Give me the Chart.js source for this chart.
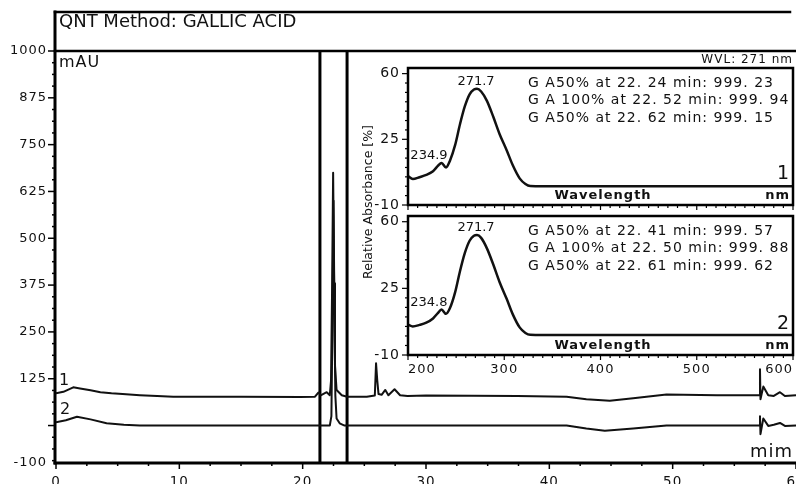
<!DOCTYPE html>
<html>
<head>
<meta charset="utf-8">
<script src="https://cdn.jsdelivr.net/npm/chart.js@4.4.0/dist/chart.umd.min.js"></script>
<style>
  html, body { margin: 0; padding: 0; background: #fff; }
  #wrap { position: relative; width: 796px; height: 484px; overflow: hidden; background: #fff; }
  canvas { position: absolute; }
  #main { left: 0; top: 0; }
  #spec1 { left: 350px; top: 52px; }
  #spec2 { left: 350px; top: 208px; }
</style>
</head>
<body>
<div id="wrap">
  <canvas id="main" width="796" height="484"></canvas>
  <canvas id="spec1" width="446" height="160"></canvas>
  <canvas id="spec2" width="446" height="176"></canvas>
</div>
<script>
// ---- Chromatogram, detector at 271 nm (time in min, signal in mAU) ----
const time1 = [0, 0.6, 1.4, 1.95, 2.8, 3.6, 4.5, 5.4, 6.8, 8.2, 9.5, 15, 19.8, 21.0, 21.27, 21.5, 21.95, 22.2,
  22.3, 22.38, 22.47, 22.55, 22.62, 22.75, 23.17, 23.6, 25.2, 25.85, 25.95, 26.05, 26.15, 26.4, 26.7, 26.95,
  27.45, 27.9, 28.5, 30, 37.4, 41.4, 43, 44.9, 46.8, 49.5, 53.6, 57.0, 57.08, 57.12, 57.35, 57.75, 58.2, 58.7, 59.1, 60];
const trace1 = [86, 90, 102, 99, 94, 89, 86, 84, 81, 79, 77, 77, 76, 77, 88, 81, 89, 81,
  120, 350, 675, 380, 160, 95, 81, 77, 77, 80, 166, 120, 84, 82, 95, 81,
  97, 81, 79, 80, 79, 77, 70, 66, 73, 83, 81, 81, 150, 70, 104, 81, 79, 89, 79, 81];

const time2 = [0, 0.8, 1.7, 2.8, 4.1, 5.5, 6.8, 20, 22.2, 22.33, 22.4, 22.5, 22.58, 22.65, 22.75, 23.0, 23.4,
  41.4, 43, 44.5, 46.8, 49.5, 57.0, 57.08, 57.12, 57.35, 57.75, 58.2, 58.7, 59.1, 60];
const trace2 = [8.5, 14, 23.5, 16.5, 6, 2, 0, 0, 0, 25, 230, 600, 300, 80, 19, 6, 0,
  0, -8, -14, -8, 0, 0, 25, -23, 19, -1, 2, 7, -1, 0];

// peak window markers (min)
const markerTimes = [21.4, 23.6];

const timeTicks = [0, 10, 20, 30, 40, 50, 60];
const mauTicks = [-100, 125, 250, 375, 500, 625, 750, 875, 1000];

// ---- UV spectra across the gallic acid peak (wavelength in nm, relative absorbance in %) ----
const wl1 = [200, 205, 212, 219, 226, 231, 234.9, 239.5, 243.5, 249, 254, 259, 264, 268.5, 271.7, 276, 282,
  288.6, 295, 302.5, 309, 316, 322, 327, 340, 600];
const spec1 = [5.4, 3.8, 4.8, 6.0, 8.0, 10.8, 12.4, 10.0, 13.5, 22, 33, 42.5, 49, 51.5, 52, 50.5, 45.5,
  37, 28, 19.2, 11, 4.2, 1.2, 0.1, 0, 0];

const wl2 = [200, 205, 212, 219, 226, 231, 234.8, 239.5, 243.5, 249, 254, 259, 264, 268.5, 271.7, 276, 282,
  288.6, 295, 302.5, 309, 316, 322, 327, 340, 600];
const spec2 = [5.9, 5.0, 5.8, 7.0, 9.2, 12, 13.9, 11.6, 14.5, 23, 34, 43.5, 50, 52.6, 53, 51.5, 46,
  37.5, 28.5, 19.5, 11.2, 4.5, 1.6, 0.6, 0.5, 0.5];

const spec1Peaks = [271.7, 234.9];
const spec2Peaks = [271.7, 234.8];

const spec1Notes = ['G A50% at 22. 24 min: 999. 23', 'G A 100% at 22. 52 min: 999. 94', 'G A50% at 22. 62 min: 999. 15'];
const spec2Notes = ['G A50% at 22. 41 min: 999. 57', 'G A 100% at 22. 50 min: 999. 88', 'G A50% at 22. 61 min: 999. 62'];

const specYTicks = [-10, 25, 60];
const specXTicks = [200, 300, 400, 500, 600];

const INK = '#111';
const FONT = 'DejaVu Sans';

function pts(xs, ys) { return xs.map((x, i) => ({ x: x, y: ys[i] })); }

function txt(ctx, s, x, y, font, align, spacing) {
  ctx.save();
  ctx.font = font;
  ctx.fillStyle = INK;
  ctx.textAlign = align || 'left';
  ctx.textBaseline = 'middle';
  ctx.letterSpacing = spacing || '0px';
  ctx.fillText(s, x, y);
  ctx.restore();
}

function line(ctx, x1, y1, x2, y2, w) {
  ctx.beginPath();
  ctx.lineWidth = w;
  ctx.moveTo(x1, y1);
  ctx.lineTo(x2, y2);
  ctx.stroke();
}

// no label-driven margins on the axes
function noSidePadding(s) { s.paddingLeft = 0; s.paddingRight = 0; }
function noEndPadding(s) { s.paddingTop = 0; s.paddingBottom = 0; }

const spacingPlugin = {
  id: 'spacing',
  beforeDraw(chart) { chart.ctx.letterSpacing = '1px'; }
};

// ---- main chromatogram ----
const chromFrame = {
  id: 'chromFrame',
  afterDraw(chart) {
    const ctx = chart.ctx, ca = chart.chartArea;
    const xs = chart.scales.x, ys = chart.scales.y;
    ctx.save();
    ctx.strokeStyle = '#000';
    ctx.lineCap = 'square';
    // title box and axes
    line(ctx, ca.left - 1, 12, ca.left - 1, ca.bottom, 3);
    line(ctx, ca.left - 1, 12, chart.width - 6, 12, 2.5);
    line(ctx, ca.left - 1, ca.top, chart.width, ca.top, 2.5);
    line(ctx, ca.left - 1, ca.bottom, chart.width, ca.bottom, 3);
    ctx.lineCap = 'butt';
    // y ticks
    for (let v = -93.75; v <= 1000.01; v += 31.25) {
      const y = ys.getPixelForValue(v);
      const major = Math.abs(v % 125) < 0.01;
      line(ctx, ca.left - (major ? 8 : 4), y, ca.left - 1, y, 1.5);
    }
    // x ticks
    for (let t = 0; t <= 60.01; t += 2.5) {
      const x = xs.getPixelForValue(t);
      const major = Math.abs(t % 10) < 0.01;
      line(ctx, x, ca.bottom, x, ca.bottom + (major ? 6 : 3), 1.5);
    }
    ctx.restore();

    txt(ctx, 'QNT Method: GALLIC ACID', ca.left + 3, 22, '18px ' + FONT, 'left');
    txt(ctx, 'mAU', ca.left + 3, 63, '16px ' + FONT, 'left', '1px');
    txt(ctx, '1', ca.left + 3, ys.getPixelForValue(trace1[0] + 33), '16px ' + FONT, 'left');
    txt(ctx, '2', ca.left + 4, ys.getPixelForValue(trace2[0] + 33), '16px ' + FONT, 'left');
    txt(ctx, 'mim', ca.right - 3, ca.bottom - 11, '18px ' + FONT, 'right', '1px');
    txt(ctx, 'WVL: 271 nm', ca.right - 3, ca.top + 9, '12px ' + FONT, 'right', '1px');

    ctx.save();
    ctx.translate(369, 202);
    ctx.rotate(-Math.PI / 2);
    txt(ctx, 'Relative Absorbance [%]', 0, 0, '12.5px ' + FONT, 'center');
    ctx.restore();
  }
};

const traceStyle = { borderColor: INK, borderWidth: 2, pointRadius: 0, tension: 0, borderJoinStyle: 'round' };

new Chart(document.getElementById('main'), {
  type: 'line',
  data: {
    datasets: [
      Object.assign({ data: pts(time1, trace1) }, traceStyle),
      Object.assign({ data: pts(time2, trace2) }, traceStyle)
    ].concat(markerTimes.map(t => ({
      data: [{ x: t, y: -100 }, { x: t, y: 1000 }],
      borderColor: '#000', borderWidth: 3, pointRadius: 0
    })))
  },
  options: {
    responsive: false,
    animation: false,
    events: [],
    layout: { padding: { top: 51, left: 0, right: 0, bottom: 0 }, autoPadding: false },
    plugins: { legend: { display: false }, tooltip: { enabled: false } },
    scales: {
      x: {
        type: 'linear', min: 0, max: 60,
        afterFit(s) { s.height = 21; noSidePadding(s); },
        afterBuildTicks(s) { s.ticks = timeTicks.map(v => ({ value: v })); },
        grid: { display: false, drawTicks: false },
        border: { display: false },
        ticks: { padding: 11, maxRotation: 0, autoSkip: false, color: INK, font: { family: FONT, size: 13.5 },
                 callback: v => String(v) }
      },
      y: {
        type: 'linear', min: -100, max: 1000,
        afterFit(s) { s.width = 56; noEndPadding(s); },
        afterBuildTicks(s) { s.ticks = mauTicks.map(v => ({ value: v })); },
        grid: { display: false, drawTicks: false },
        border: { display: false },
        ticks: { padding: 9, color: INK, font: { family: FONT, size: 13 }, callback: v => String(v) }
      }
    }
  },
  plugins: [spacingPlugin, chromFrame]
});

// ---- spectra panels ----
function spectrumChart(id, wl, vals, peaks, notes, panelLabel, showXLabels, padTop, axisH) {
  const frame = {
    id: 'specFrame' + panelLabel,
    afterDraw(chart) {
      const ctx = chart.ctx, ca = chart.chartArea;
      const xs = chart.scales.x, ys = chart.scales.y;
      ctx.save();
      ctx.strokeStyle = '#000';
      ctx.lineWidth = 2.5;
      ctx.strokeRect(ca.left, ca.top, ca.right - ca.left, ca.bottom - ca.top);
      for (let v = -10; v <= 60.01; v += 5) {
        const y = ys.getPixelForValue(v);
        const major = specYTicks.includes(v);
        line(ctx, ca.left - (major ? 6 : 3), y, ca.left, y, 1.2);
      }
      for (let w = 200; w <= 600; w += 10) {
        const x = xs.getPixelForValue(w);
        const major = w % 100 === 0;
        line(ctx, x, ca.bottom, x, ca.bottom + (major ? 5 : 3), 1.2);
      }
      ctx.restore();

      // peak wavelength labels
      const pMain = peaks[0], pSh = peaks[1];
      const yMain = ys.getPixelForValue(vals[wl.indexOf(pMain)]);
      txt(ctx, pMain.toFixed(1), xs.getPixelForValue(pMain) - 1, yMain - 7, '13px ' + FONT, 'center');
      const ySh = ys.getPixelForValue(vals[wl.indexOf(pSh)]);
      txt(ctx, pSh.toFixed(1), xs.getPixelForValue(pSh) + 6, ySh - 7, '13px ' + FONT, 'right');

      notes.forEach((s, i) => {
        txt(ctx, s, ca.left + 120, ca.top + 15 + i * 17.8, '14px ' + FONT, 'left', '1px');
      });
      txt(ctx, 'Wavelength', ca.left + 195, ca.bottom - 9, 'bold 13px ' + FONT, 'center', '1px');
      txt(ctx, 'nm', ca.right - 3, ca.bottom - 9, 'bold 13px ' + FONT, 'right', '1px');
      txt(ctx, panelLabel, ca.right - 4, ca.bottom - 31, '19px ' + FONT, 'right');
    }
  };

  return new Chart(document.getElementById(id), {
    type: 'line',
    data: {
      datasets: [{
        data: pts(wl, vals), borderColor: INK, borderWidth: 2.5, pointRadius: 0,
        cubicInterpolationMode: 'monotone', borderJoinStyle: 'round'
      }]
    },
    options: {
      responsive: false,
      animation: false,
      events: [],
      layout: { padding: { top: padTop, left: 0, right: 3, bottom: 0 }, autoPadding: false },
      plugins: { legend: { display: false }, tooltip: { enabled: false } },
      scales: {
        x: {
          type: 'linear', min: 200, max: 600,
          afterFit(s) { s.height = axisH; noSidePadding(s); },
          afterBuildTicks(s) { s.ticks = specXTicks.map(v => ({ value: v })); },
          grid: { display: false, drawTicks: false },
          border: { display: false },
          ticks: { display: showXLabels, align: 'inner', padding: 7, maxRotation: 0, autoSkip: false,
                   color: INK, font: { family: FONT, size: 13 }, callback: v => String(v) }
        },
        y: {
          type: 'linear', min: -10, max: 63,
          afterFit(s) { s.width = 58; noEndPadding(s); },
          afterBuildTicks(s) { s.ticks = specYTicks.map(v => ({ value: v })); },
          grid: { display: false, drawTicks: false },
          border: { display: false },
          ticks: { padding: 8, color: INK, font: { family: FONT, size: 14 }, callback: v => String(v) }
        }
      }
    },
    plugins: [spacingPlugin, frame]
  });
}

spectrumChart('spec1', wl1, spec1, spec1Peaks, spec1Notes, '1', false, 16, 7);
spectrumChart('spec2', wl2, spec2, spec2Peaks, spec2Notes, '2', true, 8, 29);
</script>
</body>
</html>
